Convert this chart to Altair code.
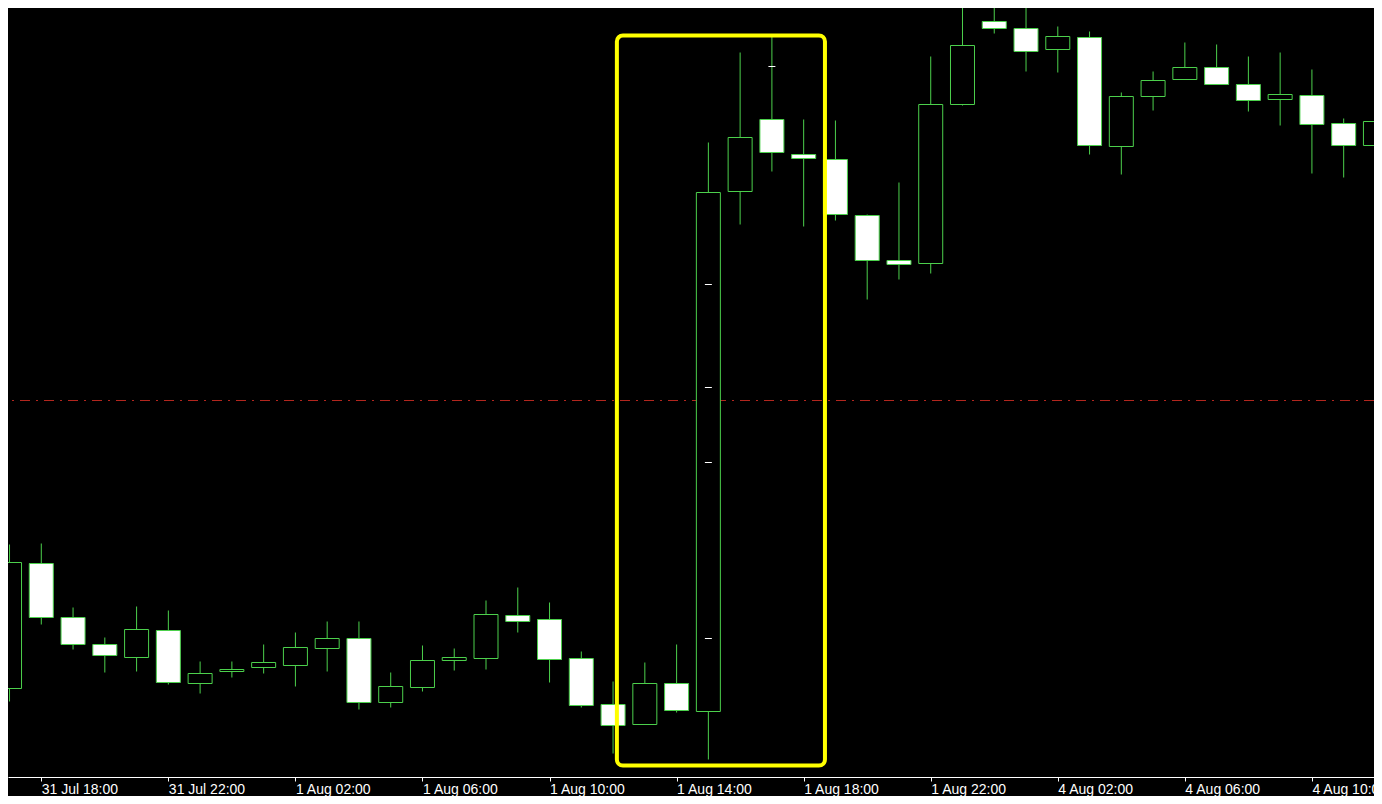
import json
import altair as alt
import pandas as pd

# ---- data (hourly EURUSD-like candles) ----
times = (
    ["31 Jul %02d:00" % h for h in range(17, 24)]
    + ["1 Aug %02d:00" % h for h in range(0, 24)]
    + ["4 Aug %02d:00" % h for h in range(0, 13)]
)

opens = [1.33729, 1.33854, 1.33800, 1.33773, 1.33760, 1.33787, 1.33734, 1.33746,
         1.33750, 1.33752, 1.33769, 1.33779, 1.33715, 1.33730, 1.33757, 1.33759,
         1.33802, 1.33798, 1.33759, 1.33713, 1.33693, 1.33734, 1.33706, 1.34226,
         1.34298, 1.34263, 1.34258, 1.34202, 1.34157, 1.34154, 1.34313, 1.34396,
         1.34389, 1.34368, 1.34380, 1.34271, 1.34321, 1.34338, 1.34350, 1.34333,
         1.34318, 1.34322, 1.34294, 1.34272]
highs = [1.33873, 1.33874, 1.33810, 1.33780, 1.33811, 1.33807, 1.33756, 1.33756,
         1.33773, 1.33785, 1.33796, 1.33796, 1.33745, 1.33772, 1.33769, 1.33817,
         1.33830, 1.33815, 1.33766, 1.33736, 1.33755, 1.33773, 1.34275, 1.34365,
         1.34381, 1.34298, 1.34297, 1.34203, 1.34235, 1.34361, 1.34416, 1.34411,
         1.34413, 1.34391, 1.34386, 1.34325, 1.34346, 1.34375, 1.34373, 1.34361,
         1.34365, 1.34348, 1.34299, 1.34344]
lows = [1.33716, 1.33793, 1.33768, 1.33745, 1.33746, 1.33733, 1.33724, 1.33740,
        1.33744, 1.33731, 1.33746, 1.33708, 1.33710, 1.33726, 1.33747, 1.33748,
        1.33785, 1.33735, 1.33710, 1.33664, 1.33693, 1.33705, 1.33658, 1.34193,
        1.34246, 1.34191, 1.34197, 1.34118, 1.34138, 1.34144, 1.34312, 1.34384,
        1.34346, 1.34345, 1.34263, 1.34243, 1.34307, 1.34338, 1.34333, 1.34306,
        1.34292, 1.34244, 1.34240, 1.34262]
closes = [1.33855, 1.33800, 1.33773, 1.33762, 1.33788, 1.33735, 1.33744, 1.33748,
          1.33755, 1.33770, 1.33779, 1.33715, 1.33731, 1.33757, 1.33760, 1.33803,
          1.33796, 1.33758, 1.33712, 1.33692, 1.33734, 1.33707, 1.34225, 1.34280,
          1.34265, 1.34259, 1.34203, 1.34157, 1.34153, 1.34313, 1.34372, 1.34389,
          1.34366, 1.34381, 1.34272, 1.34321, 1.34337, 1.34350, 1.34333, 1.34317,
          1.34323, 1.34293, 1.34272, 1.34296]

tick_idx = [1, 5, 9, 13, 17, 21, 25, 29, 33, 37, 41]
tick_labels = [times[i] for i in tick_idx]

marker_idx = [22, 22, 22, 22, 24]
marker_price = [1.34133, 1.34030, 1.33955, 1.33779, 1.34351]

level_price = [1.34017]

box_idx = [19.12, 25.67]
box_price = [1.33652, 1.34382]

# ---- tables ----
df = pd.DataFrame({
    "idx": list(range(len(times))),
    "time": times,
    "open": opens, "high": highs, "low": lows, "close": closes,
})
df["dir"] = ["up" if c >= o else "down" for o, c in zip(opens, closes)]

markers = pd.DataFrame({"idx": marker_idx, "price": marker_price})
level = pd.DataFrame({"price": level_price})
box = pd.DataFrame({"x1": [box_idx[0]], "x2": [box_idx[1]],
                    "y1": [box_price[0]], "y2": [box_price[1]]})

GREEN = "#4cd04c"

xscale = alt.Scale(domain=[0.109375, 42.796875], nice=False, zero=False)
yscale = alt.Scale(domain=[1.336405, 1.344095], nice=False, zero=False)

label_expr = json.dumps(tick_labels) + "[(datum.value - 1) / 4]"
xaxis = alt.Axis(
    values=tick_idx, labelExpr=label_expr, title=None, grid=False,
    domainColor="#ffffff", domainWidth=1, tickColor="#ffffff", tickSize=4,
    labelColor="#ffffff", labelFont="Liberation Sans", labelFontSize=14,
    labelAlign="left", labelBaseline="top", labelPadding=1,
    labelOverlap=False, labelFlush=False, labelBound=False,
)


def X(field):
    return alt.X(field, type="quantitative", scale=xscale, axis=xaxis)


def Y(field):
    return alt.Y(field, type="quantitative", scale=yscale, axis=None)


level_layer = alt.Chart(level).mark_rule(
    color="#b3261e", strokeWidth=1, strokeDash=[10, 6, 2, 6]
).encode(y=Y("price"))

wicks = alt.Chart(df).mark_rule(color=GREEN, strokeWidth=1, clip=True).encode(
    x=X("idx"), y=Y("low"), y2="high"
)

bodies = alt.Chart(df).mark_bar(
    size=24, stroke=GREEN, strokeWidth=1, clip=True, opacity=1
).encode(
    x=X("idx"), y=Y("open"), y2="close",
    fill=alt.Fill("dir:N", scale=alt.Scale(domain=["up", "down"],
                                           range=["#000000", "#ffffff"]),
                  legend=None),
)

marks = alt.Chart(markers).transform_calculate(
    xa="datum.idx - 0.11", xb="datum.idx + 0.11"
).mark_rule(color="#ffffff", strokeWidth=1).encode(
    x=X("xa"), x2="xb", y=Y("price")
)

box_layer = alt.Chart(box).mark_rect(
    fillOpacity=0, stroke="#ffff00", strokeWidth=4, cornerRadius=6
).encode(x=X("x1"), x2="x2", y=Y("y1"), y2="y2")

chart = alt.layer(level_layer, wicks, bodies, marks, box_layer).properties(
    width=1366, height=769,
    padding={"left": 0, "right": 0, "top": 0, "bottom": 19},
    autosize=alt.AutoSizeParams(type="none"),
    background="#000000",
).configure_view(strokeWidth=0)

chart.save("out.html", embed_options={"renderer": "svg", "actions": False})
